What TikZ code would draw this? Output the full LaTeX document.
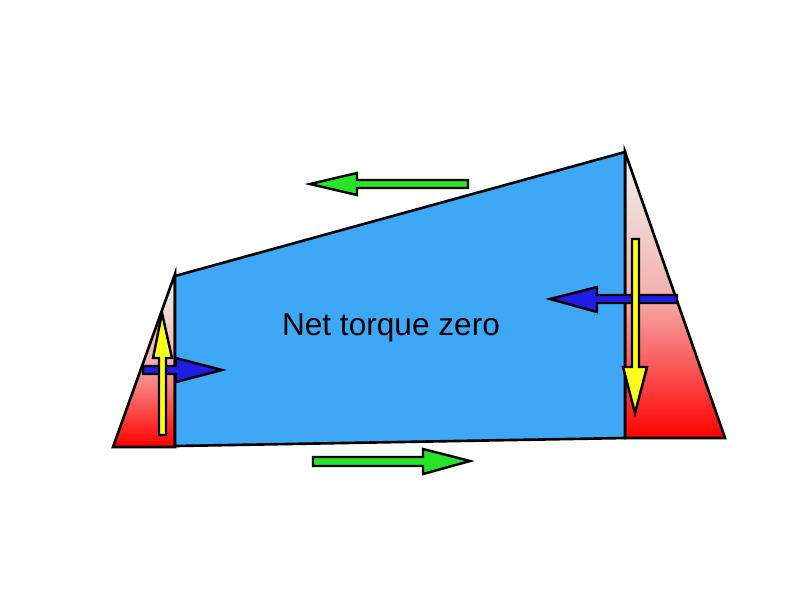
\documentclass[tikz,border=0pt]{standalone}
\usepackage{fontspec}
\setmainfont{Liberation Sans}
\usepackage{tikz}
\usetikzlibrary{positioning}
\definecolor{plateblue}{RGB}{62,168,246}
\definecolor{forcegreen}{RGB}{40,228,40}
\definecolor{forceblue}{RGB}{30,30,230}
\definecolor{forceyellow}{RGB}{255,255,30}
\definecolor{paletop}{RGB}{236,244,236}
\definecolor{palemid}{RGB}{244,176,174}

\begin{document}
\begin{tikzpicture}[x=0.02cm,y=-0.02cm,line join=miter]
\tikzstyle{edge}=[draw=black,line width=1.5pt]
\tikzstyle{wedge}=[edge,top color=paletop,bottom color=red,middle color=palemid]
\tikzstyle{force}=[draw=black,line width=1.4pt]
\useasboundingbox (0,0) rectangle (800,600);
% wedges and plate
\path[wedge] (113,447) -- (175,274) -- (175,447) -- cycle;
\path[wedge] (625,152) -- (725,438) -- (625,438) -- cycle;
\path[edge,fill=plateblue] (175,276) -- (625,152) -- (625,438) -- (175,446) -- cycle;
% friction forces
\path[force,fill=forcegreen] (468,180) -- (357,180) -- (357,173) -- (310,184)
  -- (357,195) -- (357,188) -- (468,188) -- cycle;
\path[force,fill=forcegreen] (313,457) -- (423,457) -- (423,449) -- (470,461)
  -- (423,474) -- (423,466) -- (313,466) -- cycle;
% normal forces
\path[force,fill=forceblue] (143,366) -- (176,366) -- (176,358) -- (222,370)
  -- (176,382) -- (176,374) -- (143,374) -- cycle;
\path[force,fill=forceblue] (677,295) -- (597,295) -- (597,287) -- (550,299)
  -- (597,312) -- (597,303) -- (677,303) -- cycle;
% weights
\path[force,fill=forceyellow] (159,435) -- (159,358) -- (153,358) -- (162,313)
  -- (172,358) -- (166,358) -- (166,435) -- cycle;
\path[force,fill=forceyellow] (632,239) -- (632,367) -- (623,367) -- (635,413)
  -- (647,367) -- (639,367) -- (639,239) -- cycle;
\node[font=\fontsize{18}{20}\selectfont] (label) at (391,328) {Net torque zero};
\end{tikzpicture}
\end{document}
